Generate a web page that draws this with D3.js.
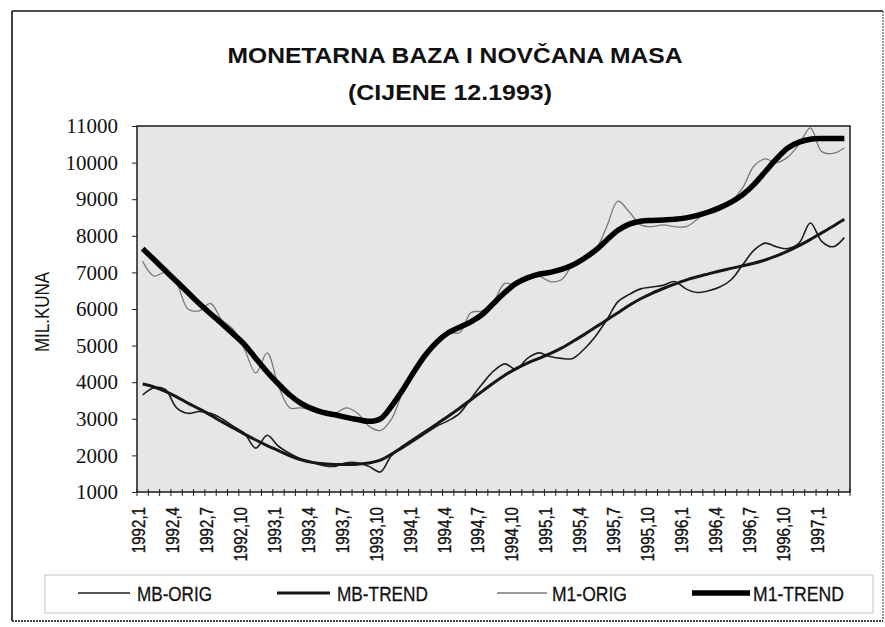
<!DOCTYPE html>
<html>
<head>
<meta charset="utf-8">
<script src="https://cdn.jsdelivr.net/npm/d3@7"></script>
<style>
  body { margin: 0; background: #fff; }
  svg { display: block; }
  .ylab { font-family: "Liberation Serif", "DejaVu Serif", "Times New Roman", serif; }
</style>
</head>
<body>
<svg id="chart" width="885" height="627"></svg>
<script>
// monthly categories 1992,1 .. 1997,3
const categories = [
  "1992,1","1992,2","1992,3","1992,4","1992,5","1992,6","1992,7","1992,8","1992,9","1992,10","1992,11","1992,12",
  "1993,1","1993,2","1993,3","1993,4","1993,5","1993,6","1993,7","1993,8","1993,9","1993,10","1993,11","1993,12",
  "1994,1","1994,2","1994,3","1994,4","1994,5","1994,6","1994,7","1994,8","1994,9","1994,10","1994,11","1994,12",
  "1995,1","1995,2","1995,3","1995,4","1995,5","1995,6","1995,7","1995,8","1995,9","1995,10","1995,11","1995,12",
  "1996,1","1996,2","1996,3","1996,4","1996,5","1996,6","1996,7","1996,8","1996,9","1996,10","1996,11","1996,12",
  "1997,1","1997,2","1997,3"
];

const mbOrig = [
  3650, 3850, 3800, 3300, 3150, 3200, 3150, 3000, 2800, 2600, 2200, 2550,
  2250, 2050, 1900, 1800, 1720, 1700, 1800, 1800, 1700, 1550, 2000, 2200,
  2400, 2600, 2800, 2950, 3150, 3550, 3950, 4300, 4500, 4350, 4650, 4800,
  4700, 4650, 4650, 4900, 5250, 5700, 6200, 6400, 6550, 6600, 6650, 6750,
  6550, 6450, 6500, 6600, 6800, 7200, 7600, 7800, 7700, 7650, 7800, 8350,
  7850, 7700, 7950
];

const mbTrend = [
  3950, 3870, 3750, 3600, 3430, 3270, 3100, 2920, 2750, 2580, 2420, 2270,
  2130, 1990, 1880, 1810, 1770, 1750, 1750, 1760, 1790, 1870, 2040, 2240,
  2450, 2650, 2860, 3070, 3290, 3520, 3750, 3980, 4190, 4370, 4520, 4650,
  4780, 4930, 5110, 5300, 5500, 5700, 5900, 6100, 6280, 6430, 6560, 6680,
  6790, 6880, 6960, 7040, 7110, 7180, 7250, 7340, 7450, 7580, 7730, 7900,
  8080, 8260, 8450
];

const m1Orig = [
  7300, 6900, 7000, 6700, 6000, 5950, 6150, 5700, 5450, 4900, 4250, 4800,
  3900, 3300, 3300, 3250, 3200, 3150, 3300, 3150, 2800, 2680, 3000, 3750,
  4300, 4700, 5100, 5350, 5350, 5900, 5950, 6200, 6700, 6650, 6850, 6900,
  6750, 6800, 7200, 7350, 7600, 8250, 8950, 8650, 8300, 8250, 8300, 8250,
  8250, 8450, 8700, 8750, 8950, 9300, 9900, 10100, 10000, 10150, 10500, 10950,
  10300, 10250, 10400
];

const m1Trend = [
  7650, 7350, 7050, 6750, 6450, 6150, 5870, 5600, 5320, 5030, 4650, 4280,
  3950, 3650, 3420, 3270, 3170, 3110, 3040, 2980, 2930, 3000, 3350, 3800,
  4300, 4750, 5100, 5350, 5500, 5650, 5850, 6150, 6450, 6700, 6850, 6950,
  7000, 7080, 7200, 7380, 7600, 7880, 8150, 8320, 8400, 8420, 8430, 8450,
  8490, 8560, 8650, 8770, 8920, 9120, 9400, 9750, 10100, 10400, 10560, 10640,
  10660, 10660, 10660
];

const yTicks = [1000, 2000, 3000, 4000, 5000, 6000, 7000, 8000, 9000, 10000, 11000];
const xLabels = categories.filter((c, i) => i % 3 === 0);

const series = [
  {name: "MB-ORIG",  values: mbOrig,  color: "#1e1e1e", width: 1.6},
  {name: "MB-TREND", values: mbTrend, color: "#161616", width: 3},
  {name: "M1-ORIG",  values: m1Orig,  color: "#7a7a7a", width: 1.3},
  {name: "M1-TREND", values: m1Trend, color: "#000000", width: 5.5}
];

const sans = "'Liberation Sans', Arial, sans-serif";

var svg = d3.select("#chart");

// outer frame
svg.append("line").attr("x1", 12).attr("y1", 11).attr("x2", 12).attr("y2", 621)
  .attr("stroke", "#111").attr("stroke-width", 1.6);
svg.append("line").attr("x1", 12).attr("y1", 11).attr("x2", 883).attr("y2", 11)
  .attr("stroke", "#111").attr("stroke-width", 1.4);
svg.append("line").attr("x1", 883).attr("y1", 11).attr("x2", 883).attr("y2", 621)
  .attr("stroke", "#555").attr("stroke-width", 1.2).attr("stroke-dasharray", "2,1");
svg.append("line").attr("x1", 12).attr("y1", 621).attr("x2", 883).attr("y2", 621)
  .attr("stroke", "#444").attr("stroke-width", 2).attr("stroke-dasharray", "2,1");

// titles
svg.append("text")
  .attr("x", 455).attr("y", 63)
  .attr("text-anchor", "middle")
  .style("font-family", sans)
  .attr("font-weight", "bold").attr("font-size", 22)
  .attr("textLength", 455).attr("lengthAdjust", "spacingAndGlyphs")
  .attr("fill", "#111")
  .text("MONETARNA BAZA I NOVČANA MASA");

svg.append("text")
  .attr("x", 450).attr("y", 100)
  .attr("text-anchor", "middle")
  .style("font-family", sans)
  .attr("font-weight", "bold").attr("font-size", 22)
  .attr("textLength", 204).attr("lengthAdjust", "spacingAndGlyphs")
  .attr("fill", "#111")
  .text("(CIJENE 12.1993)");

// plot area
var plot = {left: 137, right: 850, top: 126, bottom: 492};

var x = d3.scaleBand().domain(categories).range([plot.left, plot.right]).padding(0);
var y = d3.scaleLinear().domain([1000, 11000]).range([plot.bottom, plot.top]);
var bw = x.bandwidth();

svg.append("rect")
  .attr("x", plot.left).attr("y", plot.top)
  .attr("width", plot.right - plot.left).attr("height", plot.bottom - plot.top)
  .attr("fill", "#e6e6e6");

// y axis
var yAxis = svg.append("g")
  .attr("transform", "translate(" + plot.left + ",0)")
  .attr("font-family", null)
  .call(d3.axisLeft(y).tickValues(yTicks).tickSize(5).tickPadding(14).tickFormat(d3.format("d")));
yAxis.attr("font-family", null).attr("font-size", null);
yAxis.select(".domain").remove();
yAxis.selectAll("line").attr("stroke", "#222");
yAxis.selectAll("text")
  .attr("class", "ylab")
  .attr("font-size", 21)
  .attr("fill", "#111");

svg.append("text")
  .attr("transform", "translate(49,312) rotate(-90) scale(0.85,1)")
  .attr("text-anchor", "middle")
  .style("font-family", sans).attr("font-size", 20)
  .attr("fill", "#111")
  .text("MIL.KUNA");

// x axis: ticks between categories, labels every 3rd month
var boundaries = categories.map(c => x(c)).concat([plot.right]);
svg.append("g").selectAll("line")
  .data(boundaries)
  .join("line")
  .attr("x1", d => d).attr("x2", d => d)
  .attr("y1", plot.bottom - 3).attr("y2", plot.bottom + 4)
  .attr("stroke", "#222").attr("stroke-width", 1);

svg.append("g").selectAll("text")
  .data(xLabels)
  .join("text")
  .attr("transform", d => "translate(" + (x(d) + bw / 2 - 4) + "," + (plot.bottom + 15) + ") rotate(-90) scale(0.84,1)")
  .attr("dy", "0.35em")
  .attr("text-anchor", "end")
  .style("font-family", sans).attr("font-size", 18)
  .attr("fill", "#111").attr("stroke", "#111").attr("stroke-width", 0.35)
  .text(d => d);

// series lines
var line = d3.line()
  .x((d, i) => x(categories[i]) + bw / 2)
  .y(d => y(d))
  .curve(d3.curveCatmullRom.alpha(0.5));

svg.append("g").selectAll("path")
  .data(series)
  .join("path")
  .attr("d", d => line(d.values))
  .attr("fill", "none")
  .attr("stroke", d => d.color)
  .attr("stroke-width", d => d.width)
  .attr("stroke-linejoin", "round");

// plot frame
svg.append("rect")
  .attr("x", plot.left).attr("y", plot.top)
  .attr("width", plot.right - plot.left).attr("height", plot.bottom - plot.top)
  .attr("fill", "none").attr("stroke", "#1a1a1a").attr("stroke-width", 1.5);

// legend
svg.append("rect")
  .attr("x", 45).attr("y", 575).attr("width", 828).attr("height", 38)
  .attr("fill", "none").attr("stroke", "#c4c4c4").attr("stroke-width", 1);

var legendPos = [
  {x1: 78,  x2: 130, tx: 137, tw: 75},
  {x1: 277, x2: 330, tx: 337, tw: 91},
  {x1: 497, x2: 547, tx: 552, tw: 75},
  {x1: 692, x2: 750, tx: 753, tw: 91}
];

var leg = svg.append("g").selectAll("g")
  .data(series)
  .join("g");

leg.append("line")
  .attr("x1", (d, i) => legendPos[i].x1).attr("x2", (d, i) => legendPos[i].x2)
  .attr("y1", 593).attr("y2", 593)
  .attr("stroke", d => d.color)
  .attr("stroke-width", d => d.width);

leg.append("text")
  .attr("x", (d, i) => legendPos[i].tx).attr("y", 601)
  .style("font-family", sans).attr("font-size", 21)
  .attr("textLength", (d, i) => legendPos[i].tw).attr("lengthAdjust", "spacingAndGlyphs")
  .attr("fill", "#111").attr("stroke", "#111").attr("stroke-width", 0.3)
  .text(d => d.name);
</script>
</body>
</html>
